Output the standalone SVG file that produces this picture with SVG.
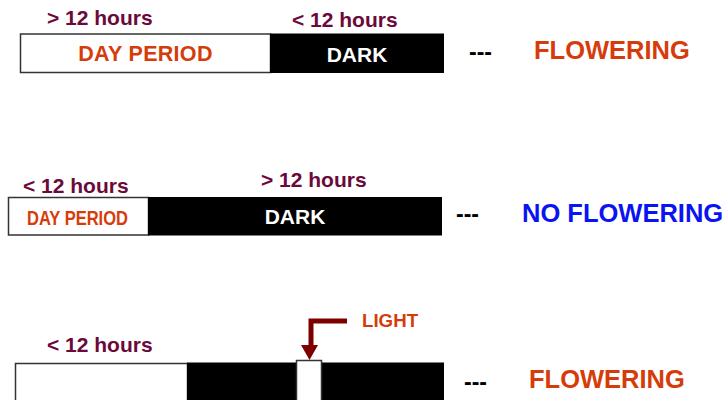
<svg xmlns="http://www.w3.org/2000/svg" width="725" height="400" viewBox="0 0 725 400">
<style>
text{font-family:"Liberation Sans",Arial,sans-serif;font-weight:bold}
.hrs{fill:#6b0a3a;font-size:21px}
.day{fill:#d63c0a}
.dark{fill:#fff;font-size:21px}
.dash{fill:#000;font-size:23px}
.res{font-size:25.5px}
.white{fill:#fff;stroke:#333;stroke-width:1.5}
.black{fill:#000}
</style>
<rect width="725" height="400" fill="#fff"/>
<g id="row1">
<rect class="white" x="20.5" y="34" width="250" height="38.5"/>
<rect class="black" x="270" y="33.5" width="174" height="39.5"/>
<text class="hrs" x="47" y="25">&gt; 12 hours</text>
<text class="hrs" x="292" y="27">&lt; 12 hours</text>
<text class="day" x="145.5" y="61" font-size="21.5" letter-spacing="0.3" text-anchor="middle">DAY PERIOD</text>
<text class="dark" x="357" y="62" text-anchor="middle">DARK</text>
<text class="dash" x="469" y="60">---</text>
<text class="day res" x="534" y="59">FLOWERING</text>
</g>
<g id="row2">
<rect class="white" x="8.5" y="197.5" width="140" height="37.5"/>
<rect class="black" x="148" y="197" width="294" height="38.5"/>
<text class="hrs" x="23" y="193">&lt; 12 hours</text>
<text class="hrs" x="261" y="187">&gt; 12 hours</text>
<text class="day" x="27" y="224.5" font-size="19.5" textLength="101" lengthAdjust="spacingAndGlyphs">DAY PERIOD</text>
<text class="dark" x="295" y="224" text-anchor="middle">DARK</text>
<text class="dash" x="456" y="222">---</text>
<text class="res" x="522" y="222" fill="#0a14f0">NO FLOWERING</text>
</g>
<g id="row3">
<rect class="white" x="15.5" y="363.5" width="172" height="40"/>
<rect class="black" x="187" y="362.5" width="257" height="40"/>
<rect class="white" x="296.5" y="360.5" width="25" height="42"/>
<text class="hrs" x="47" y="352">&lt; 12 hours</text>
<text class="day" x="362" y="327" font-size="18.7">LIGHT</text>
<text class="dash" x="464" y="390">---</text>
<text class="day res" x="529" y="388">FLOWERING</text>
</g>
<g id="connectors">
<polyline points="347,321 311,321 311,346" fill="none" stroke="#7d0000" stroke-width="5"/>
<polygon points="301,345 318,345 309.5,360" fill="#7d0000"/>
</g>
</svg>
